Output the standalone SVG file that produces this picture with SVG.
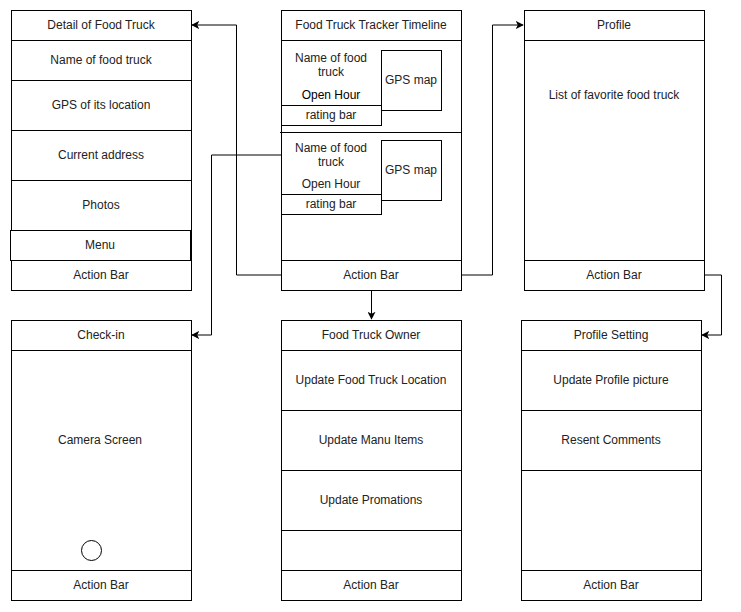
<svg xmlns="http://www.w3.org/2000/svg" width="741" height="612" viewBox="0 0 741 612">
<style>
.b{fill:#fff;stroke:#000;stroke-width:1}
.n{fill:none;stroke:#000;stroke-width:1}
text{font-family:"Liberation Sans",Arial,sans-serif;font-size:12px;fill:#222;text-anchor:middle;dominant-baseline:central}
.c{fill:none;stroke:#000;stroke-width:1}
</style>
<defs>
<marker id="a" viewBox="0 0 10 10" refX="9" refY="5" markerWidth="8" markerHeight="8" markerUnits="userSpaceOnUse" orient="auto">
<path d="M0,0 L10,5 L0,10 L2.5,5 Z" fill="#000"/>
</marker>
</defs>
<rect width="741" height="612" fill="#fff"/>

<g id="connectors">
<path class="c" d="M281,275 H236.5 V25 H192" marker-end="url(#a)"/>
<path class="c" d="M281,155 H211.5 V335 H192" marker-end="url(#a)"/>
<path class="c" d="M461,275 H492.5 V25 H523" marker-end="url(#a)"/>
<path class="c" d="M704,275 H721.5 V335 H702" marker-end="url(#a)"/>
<path class="c" d="M371.5,290 V319" marker-end="url(#a)"/>
</g>

<g id="detail">
<rect class="b" x="11.5" y="10.5" width="180" height="280"/>
<line class="n" x1="11.5" y1="40.5" x2="191.5" y2="40.5"/>
<line class="n" x1="11.5" y1="80.5" x2="191.5" y2="80.5"/>
<line class="n" x1="11.5" y1="130.5" x2="191.5" y2="130.5"/>
<line class="n" x1="11.5" y1="180.5" x2="191.5" y2="180.5"/>
<rect class="b" x="10.5" y="230.5" width="180" height="30"/>
<text x="101" y="25">Detail of Food Truck</text>
<text x="101" y="60">Name of food truck</text>
<text x="101" y="105">GPS of its location</text>
<text x="101" y="155">Current address</text>
<text x="101" y="205">Photos</text>
<text x="100" y="245">Menu</text>
<text x="101" y="275">Action Bar</text>
</g>

<g id="timeline">
<rect class="b" x="281.5" y="10.5" width="180" height="280"/>
<line class="n" x1="281.5" y1="40.5" x2="461.5" y2="40.5"/>
<line class="n" x1="280" y1="132.5" x2="461.5" y2="132.5"/>
<line class="n" x1="281.5" y1="260.5" x2="461.5" y2="260.5"/>
<rect class="b" x="381.5" y="50.5" width="60" height="60"/>
<rect class="b" x="281.5" y="105.5" width="100" height="20"/>
<rect class="b" x="381.5" y="140.5" width="60" height="60"/>
<rect class="b" x="281.5" y="194.5" width="100" height="20"/>
<text x="371" y="25">Food Truck Tracker Timeline</text>
<text x="331" y="58">Name of food</text>
<text x="331" y="72">truck</text>
<text x="331" y="95" style="fill:#000">Open Hour</text>
<text x="331" y="115">rating bar</text>
<text x="411" y="80">GPS map</text>
<text x="331" y="148">Name of food</text>
<text x="331" y="162">truck</text>
<text x="331" y="184">Open Hour</text>
<text x="331" y="204">rating bar</text>
<text x="411" y="170">GPS map</text>
<text x="371" y="275">Action Bar</text>
</g>

<g id="profile">
<rect class="b" x="524.5" y="10.5" width="180" height="280"/>
<line class="n" x1="524.5" y1="40.5" x2="704.5" y2="40.5"/>
<line class="n" x1="524.5" y1="260.5" x2="704.5" y2="260.5"/>
<text x="614" y="25">Profile</text>
<text x="614" y="95">List of favorite food truck</text>
<text x="614" y="275">Action Bar</text>
</g>

<g id="checkin">
<rect class="b" x="11.5" y="320.5" width="180" height="280"/>
<line class="n" x1="11.5" y1="350.5" x2="191.5" y2="350.5"/>
<line class="n" x1="11.5" y1="570.5" x2="191.5" y2="570.5"/>
<circle class="b" cx="91.5" cy="550.5" r="10"/>
<text x="101" y="335">Check-in</text>
<text x="100" y="440">Camera Screen</text>
<text x="101" y="585">Action Bar</text>
</g>

<g id="owner">
<rect class="b" x="281.5" y="320.5" width="180" height="280"/>
<line class="n" x1="281.5" y1="350.5" x2="461.5" y2="350.5"/>
<line class="n" x1="281.5" y1="410.5" x2="461.5" y2="410.5"/>
<line class="n" x1="281.5" y1="470.5" x2="461.5" y2="470.5"/>
<line class="n" x1="281.5" y1="530.5" x2="461.5" y2="530.5"/>
<line class="n" x1="281.5" y1="570.5" x2="461.5" y2="570.5"/>
<text x="371" y="335">Food Truck Owner</text>
<text x="371" y="380">Update Food Truck Location</text>
<text x="371" y="440">Update Manu Items</text>
<text x="371" y="500">Update Promations</text>
<text x="371" y="585">Action Bar</text>
</g>

<g id="setting">
<rect class="b" x="521.5" y="320.5" width="180" height="280"/>
<line class="n" x1="521.5" y1="350.5" x2="701.5" y2="350.5"/>
<line class="n" x1="521.5" y1="410.5" x2="701.5" y2="410.5"/>
<line class="n" x1="521.5" y1="470.5" x2="701.5" y2="470.5"/>
<line class="n" x1="521.5" y1="570.5" x2="701.5" y2="570.5"/>
<text x="611" y="335">Profile Setting</text>
<text x="611" y="380">Update Profile picture</text>
<text x="611" y="440">Resent Comments</text>
<text x="611" y="585">Action Bar</text>
</g>
</svg>
